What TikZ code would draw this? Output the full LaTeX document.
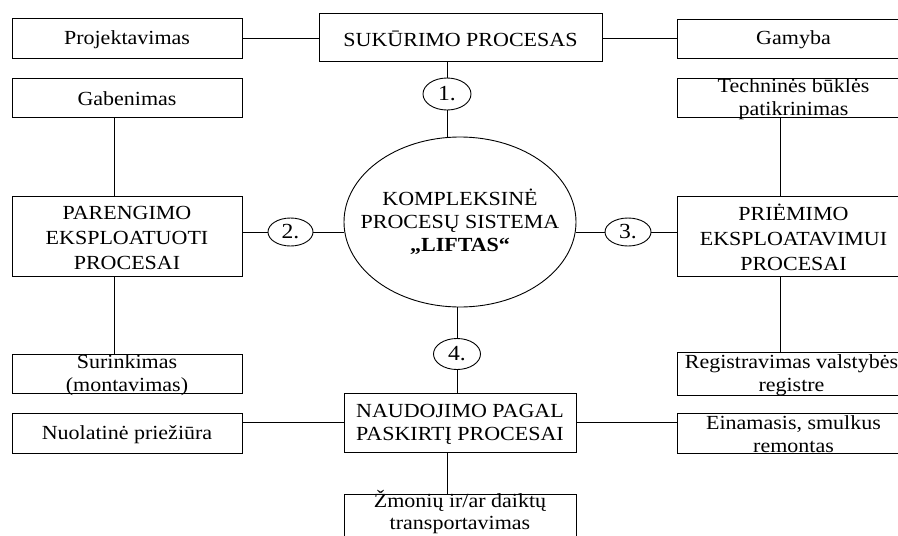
\documentclass[tikz,border=0pt]{standalone}
\usepackage{fontspec}
\setmainfont[FakeStretch=1.1]{Liberation Serif}
\usetikzlibrary{shapes.geometric}
\newcommand\mkbox[6]{%
  \node[box, minimum width={#4-#2}, minimum height={#5-#3}] (#1) at ({(#2+#4)/2},{(#3+#5)/2}) {};
  \node[txt] (t#1) at ([yshift=-1.5pt]#1.center) {#6};}
\begin{document}
\begin{tikzpicture}[x=1pt,y=-1pt,
  box/.style={draw, line width=0.9pt, inner sep=0pt},
  txt/.style={font=\fontsize{20}{23}\selectfont, align=center, inner sep=0pt},
  oval/.style={draw, ellipse, line width=0.9pt, inner sep=0pt, font=\fontsize{21.5}{23}\selectfont},
  conn/.style={line width=0.9pt}]
\useasboundingbox (0,0) rectangle (898,536);
\mkbox{proj}{12}{18}{242}{58}{Projektavimas}
\mkbox{suk}{319}{13}{602}{61}{SUKŪRIMO PROCESAS}
\mkbox{gam}{677}{19}{910}{58}{Gamyba}
\mkbox{gab}{12}{78}{242}{117}{Gabenimas}
\mkbox{tech}{677}{78}{910}{117}{Techninės būklės\\patikrinimas}
\mkbox{par}{12}{196}{242}{276}{PARENGIMO\\[2pt]EKSPLOATUOTI\\[2pt]PROCESAI}
\mkbox{pri}{677}{196}{910}{276}{PRIĖMIMO\\[2pt]EKSPLOATAVIMUI\\[2pt]PROCESAI}
\mkbox{sur}{12}{354}{242}{393}{Surinkimas\\(montavimas)}
\mkbox{reg}{677}{352}{906}{395}{Registravimas valstybės\\registre}
\mkbox{nuo}{12}{413}{242}{453}{Nuolatinė priežiūra}
\mkbox{nau}{344}{393}{576}{452}{NAUDOJIMO PAGAL\\PASKIRTĮ PROCESAI}
\mkbox{ein}{677}{413}{910}{453}{Einamasis, smulkus\\remontas}
\node[box, minimum width=232, minimum height=50] (zmo) at (460,519) {};
\node[txt, font=\fontsize{20}{21.5}\selectfont] (tzmo) at (460,512) {Žmonių ir/ar daiktų\\transportavimas};
\node[oval, minimum width=48, minimum height=32] (e1) at (447,94) {1.};
\node[oval, minimum width=45, minimum height=28] (e2) at (290.5,232) {2.};
\node[oval, minimum width=46, minimum height=28] (e3) at (628,232) {3.};
\node[oval, minimum width=47, minimum height=31] (e4) at (457,354) {4.};
\node[oval, minimum width=232, minimum height=170] (big) at (460,222) {};
\node[txt] (tbig) at (big.center) {KOMPLEKSINĖ\\PROCESŲ SISTEMA\\\textbf{„LIFTAS“}};
% connectors
\draw[conn] (proj.east) -- (proj.east -| suk.west);
\draw[conn] (gam.west) -- (gam.west -| suk.east);
\draw[conn] (e1.north) -- (e1.north |- suk.south);
\draw[conn] (e1.south) -- (e1.south |- big.north);
\draw[conn] ([xshift=-13pt]gab.south) -- ([xshift=-13pt]gab.south |- par.north);
\draw[conn] ([xshift=-13pt]par.south) -- ([xshift=-13pt]par.south |- sur.north);
\draw[conn] ([xshift=-13.5pt]tech.south) -- ([xshift=-13.5pt]tech.south |- pri.north);
\draw[conn] ([xshift=-13.5pt]pri.south) -- ([xshift=-13.5pt]pri.south |- reg.north);
\draw[conn] (e2.west) -- (e2.west -| par.east);
\draw[conn] (e2.east) -- (e2.east -| big.west);
\draw[conn] (e3.west) -- (e3.west -| big.east);
\draw[conn] (e3.east) -- (e3.east -| pri.west);
\draw[conn] (e4.north) -- (e4.north |- big.south);
\draw[conn] (e4.south) -- (e4.south |- nau.north);
\draw[conn] (nau.west) -- (nau.west -| nuo.east);
\draw[conn] (nau.east) -- (nau.east -| ein.west);
\draw[conn] ([xshift=-13pt]nau.south) -- ([xshift=-13pt]nau.south |- zmo.north);
\end{tikzpicture}
\end{document}
